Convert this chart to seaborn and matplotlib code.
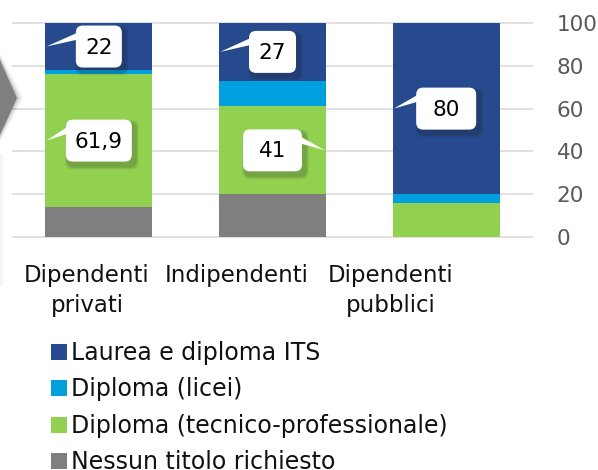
import numpy as np
import pandas as pd
import seaborn as sns
import matplotlib.pyplot as plt
from matplotlib.patches import FancyBboxPatch, Polygon, Rectangle
from matplotlib.transforms import IdentityTransform

# ---------------- data ----------------
categories = ["Dipendenti\nprivati", "Indipendenti", "Dipendenti\npubblici"]
series_names = ["Nessun titolo richiesto", "Diploma (tecnico-professionale)",
                "Diploma (licei)", "Laurea e diploma ITS"]
nessun = [14.1, 20.0, 0.0]
tecnico = [61.9, 41.0, 16.0]
licei = [2.0, 12.0, 4.0]
laurea = [22.0, 27.0, 80.0]
yticks = [0, 20, 40, 60, 80, 100]
# data labels: (category index, series index)
label_points = [(0, 3), (0, 1), (1, 3), (1, 1), (2, 3)]

# ---------------- style ----------------
colors = ["#7F7F7F", "#92D050", "#00A0DF", "#264A8D"]
W, H = 598, 470
bar_width = 0.615
label_side = ["left", "left", "left", "right", "left"]
box_widths = [46, 66, 47, 59, 60]
box_h = 42

sns.set_theme(style="white")
plt.rcParams["font.family"] = ["DejaVu Sans"]

fig = plt.figure(figsize=(W / 100, H / 100), dpi=100)
fig.patch.set_facecolor("white")

px_per_unit = 2.14
ax_top = 23 - px_per_unit
ax_bot = 237 + px_per_unit
ax = fig.add_axes([12 / W, (H - ax_bot) / H, 521 / W, (ax_bot - ax_top) / H])

df = pd.DataFrame({"cat": categories, series_names[0]: nessun, series_names[1]: tecnico,
                   series_names[2]: licei, series_names[3]: laurea})
bottom = np.zeros(len(categories))
bottoms = []
for name, col in zip(series_names, colors):
    vals = df[name].to_numpy()
    sns.barplot(x=df["cat"], y=vals, bottom=bottom.copy(), color=col, saturation=1,
                width=bar_width, errorbar=None, ax=ax, linewidth=0)
    bottoms.append(bottom.copy())
    bottom = bottom + vals

ax.set_xlim(-0.5, 2.5)
ax.set_ylim(-1, 101)
ax.set_yticks(yticks)
ax.yaxis.tick_right()
ax.tick_params(axis="y", length=0, pad=17, labelsize=15.5, labelcolor="#595959")
ax.set_xticks([])
ax.set_xlabel("")
ax.set_ylabel("")
ax.yaxis.grid(True, color="#D9D9D9", linewidth=1.1)
ax.xaxis.grid(False)
ax.set_axisbelow(True)
for s in ax.spines.values():
    s.set_visible(False)

ident = IdentityTransform()

# ---------------- decorative chevron on the left ----------------
def pxy(x, y):
    return (x, H - y)

for k, a in [(7, 0.03), (5, 0.05), (3, 0.07), (1.5, 0.09)]:
    fig.add_artist(Polygon([pxy(-5, 60 - k), pxy(0, 60 - k), pxy(17 + k, 98),
                            pxy(0, 135 + k), pxy(-5, 135 + k)],
                           closed=True, facecolor="black", alpha=a, edgecolor="none",
                           transform=ident))
fig.add_artist(Polygon([pxy(-5, 60), pxy(0, 60), pxy(17, 98), pxy(0, 135), pxy(-5, 135)],
                       closed=True, facecolor="#7F7F7F", edgecolor="none", transform=ident))
fig.add_artist(Rectangle(pxy(0, 285), 3, 130, facecolor="#F3F3F3", edgecolor="none",
                         transform=ident))

# ---------------- callout labels ----------------
series_vals = [nessun, tecnico, licei, laurea]
for (ci, si), side, bw in zip(label_points, label_side, box_widths):
    v = series_vals[si][ci]
    mid = bottoms[si][ci] + v / 2
    cx, cy = ax.transData.transform((ci, mid))
    edge_x = ci - bar_width / 2 if side == "left" else ci + bar_width / 2
    tx, ty = ax.transData.transform((edge_x, mid))
    tx = tx + (1 if side == "left" else -1)
    x0, y0 = cx - bw / 2, cy - box_h / 2
    # shadow
    for k, a in [(4, 0.05), (3, 0.08), (2, 0.12)]:
        fig.add_artist(FancyBboxPatch((x0 + 3, y0 - 4), bw, box_h,
                                      boxstyle=f"round,pad={k},rounding_size=7",
                                      facecolor="#1a1a1a", alpha=a, edgecolor="none",
                                      transform=ident))
    # pointer
    bx = x0 + 2 if side == "left" else x0 + bw - 2
    fig.add_artist(Polygon([(tx, ty), (bx, ty + 7), (bx, ty + 14)], closed=True,
                           facecolor="white", edgecolor="none", transform=ident))
    fig.add_artist(FancyBboxPatch((x0, y0), bw, box_h,
                                  boxstyle="round,pad=0,rounding_size=7",
                                  facecolor="white", edgecolor="none", transform=ident))
    txt = (f"{v:g}").replace(".", ",")
    fig.text(cx, cy - 1, txt, ha="center", va="center", fontsize=15.5, color="black",
             transform=ident)

# ---------------- category labels ----------------
cat_centers = [87, 237, 391]
for cxp, lab in zip(cat_centers, categories):
    for li, line in enumerate(lab.split("\n")):
        fig.text(cxp, H - (282 + 30 * li), line, ha="center", va="baseline",
                 fontsize=16.5, color="#111111", transform=ident)

# ---------------- legend ----------------
leg_tops = [344, 380, 417, 453]
for top, name, col in zip(leg_tops, series_names[::-1], colors[::-1]):
    fig.add_artist(Rectangle((51, H - top - 16), 16, 16, facecolor=col, edgecolor="none",
                             transform=ident))
    fig.text(71, H - (top + 16), name, ha="left", va="baseline", fontsize=17,
             color="#111111", transform=ident)

fig.savefig("out.png", dpi=100)
